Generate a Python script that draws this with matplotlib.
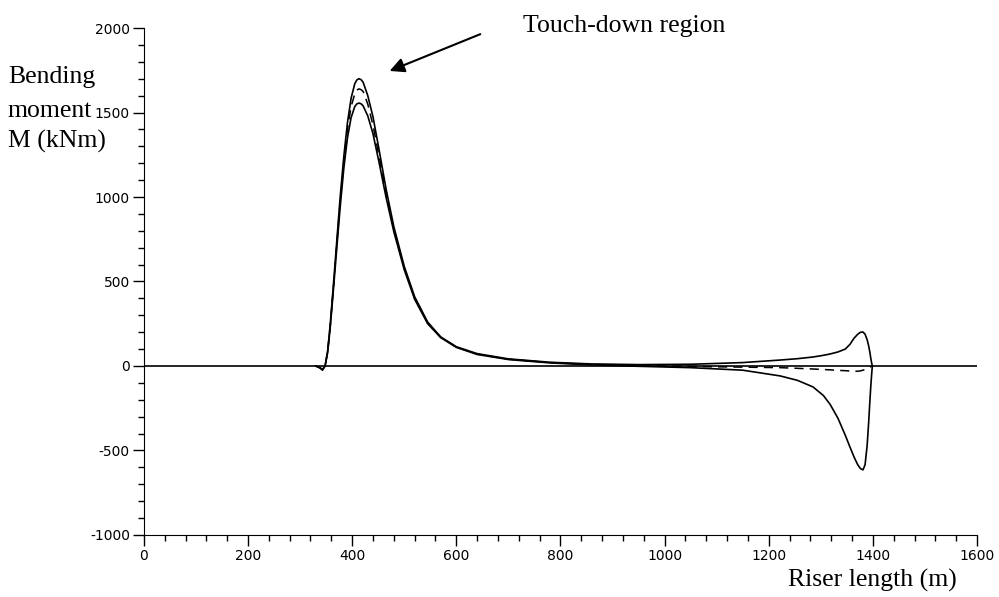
import numpy as np
import matplotlib.pyplot as plt
from matplotlib.ticker import MultipleLocator

plt.rcParams['axes.unicode_minus'] = False

# riser length (m), shared by the three curves
riser_x = [330, 338, 343, 348, 353, 358, 364, 370, 377, 384,
           391, 398, 405, 409, 413, 417, 421, 430, 440, 452,
           465, 480, 500, 520, 545, 570, 600, 640, 700, 780,
           860, 950, 1050, 1150, 1222, 1255, 1285, 1305, 1318, 1333,
           1347, 1356, 1364, 1371, 1376, 1381, 1385, 1389, 1392, 1394,
           1396, 1398, 1399]

# bending moment (kNm)
moment_upper = [0, -10, -22, 0, 90, 250, 480, 720, 1000, 1240,
                1440, 1585, 1670, 1693, 1700, 1695, 1680, 1600, 1475, 1275,
                1050, 825, 590, 410, 260, 172, 114, 73, 42, 22,
                12, 8, 10, 20, 35, 43, 53, 63, 71, 83,
                100, 128, 165, 188, 199, 201, 188, 155, 118, 85,
                45, 12, 0]
moment_lower = [0, -12, -25, 0, 80, 230, 450, 680, 940, 1170,
                1350, 1470, 1535, 1551, 1556, 1552, 1540, 1480, 1375, 1200,
                1000, 795, 570, 395, 250, 168, 110, 68, 38, 18,
                6, -2, -10, -25, -59, -85, -124, -175, -228, -310,
                -410, -480, -540, -585, -607, -615, -585, -470, -330, -220,
                -120, -35, 0]
moment_dashed = [0, -10, -20, 0, 85, 240, 465, 700, 970, 1210,
                 1400, 1535, 1610, 1633, 1640, 1636, 1625, 1550, 1425, 1238,
                 1025, 810, 580, 402, 255, 170, 112, 70, 40, 20,
                 9, 2, -3, -7, -10, -14, -18, -21, -23, -26,
                 -28, -30, -32, -31, -29, -25, -21, -15, -10, -7,
                 -4, -1, 0]

x_ticks = [0, 200, 400, 600, 800, 1000, 1200, 1400, 1600]
y_ticks = [-1000, -500, 0, 500, 1000, 1500, 2000]

fig = plt.figure(figsize=(9.99, 5.97), dpi=100)
ax = fig.add_axes([0.144, 0.104, 0.834, 0.849])

ax.axhline(0, color='black', lw=1.2)
ax.plot(riser_x, moment_upper, color='black', lw=1.2)
ax.plot(riser_x, moment_lower, color='black', lw=1.2)
ax.plot(riser_x, moment_dashed, color='black', lw=1.1, dashes=(6, 4))

ax.set_xlim(0, 1600)
ax.set_ylim(-1000, 2000)
ax.set_xticks(x_ticks)
ax.set_yticks(y_ticks)
ax.xaxis.set_minor_locator(MultipleLocator(40))
ax.yaxis.set_minor_locator(MultipleLocator(100))
ax.spines['top'].set_visible(False)
ax.spines['right'].set_visible(False)
ax.tick_params(which='major', length=8, width=1, labelsize=10, pad=2)
ax.tick_params(which='minor', length=4, width=1)

serif = 'Liberation Serif'
# arrow pointing at the touch-down peak
ax.annotate('', xy=(467, 1740), xytext=(651, 1970),
            arrowprops=dict(arrowstyle='-|>', color='black', lw=1.5, mutation_scale=22),
            annotation_clip=False)
ax.text(728, 1976, 'Touch-down region', family=serif, fontsize=18.5,
        va='baseline', clip_on=False)

for line, base in zip(['Bending', 'moment', 'M (kNm)'], [83, 117, 148]):
    fig.text(8 / 999, 1 - base / 597, line, family=serif, fontsize=18.5, va='baseline')
fig.text(788 / 999, 1 - 587 / 597, 'Riser length (m)', family=serif, fontsize=18.5,
         va='baseline')

fig.savefig('out.png', dpi=100)
